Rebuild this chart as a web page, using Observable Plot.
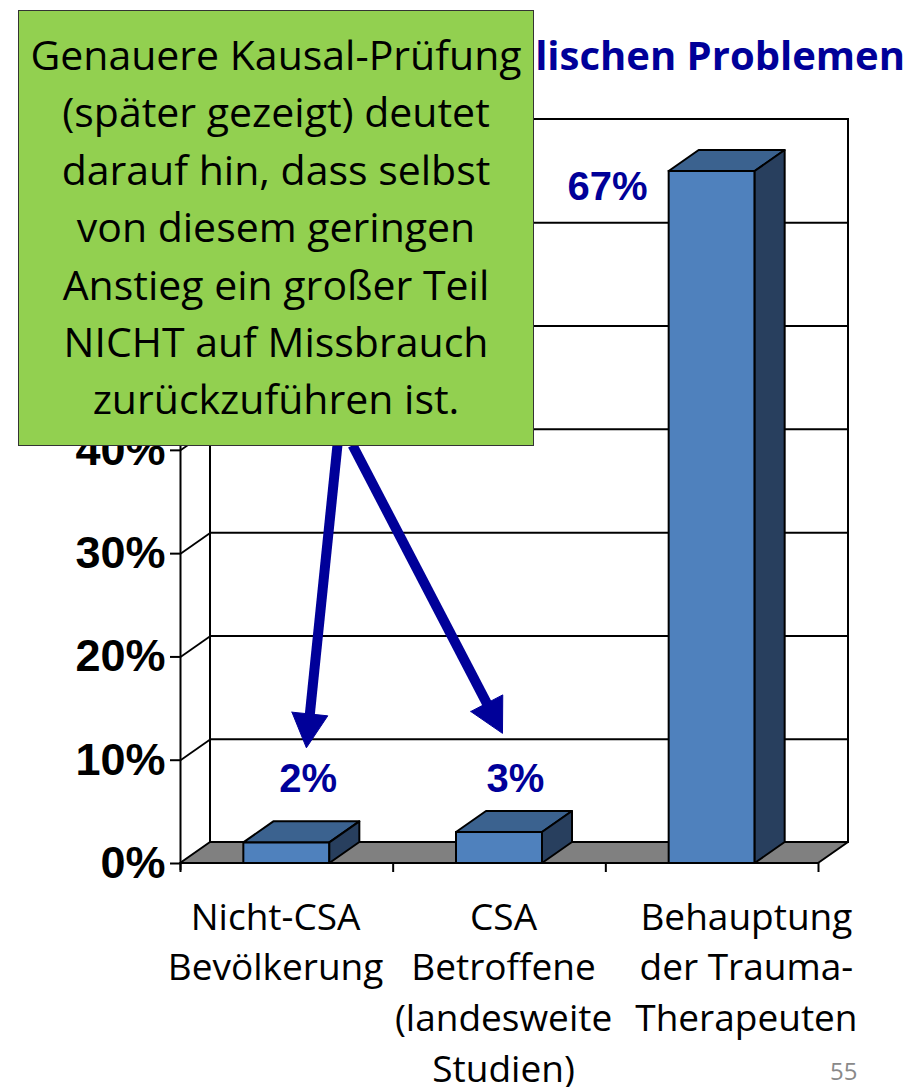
<!DOCTYPE html>
<html>
<head>
<meta charset="utf-8">
<script src="https://cdn.jsdelivr.net/npm/d3@7"></script>
<script src="https://cdn.jsdelivr.net/npm/@observablehq/plot@0.6"></script>
<style>
  body { margin: 0; background: #fff; }
  #wrap { position: relative; width: 918px; height: 1087px; overflow: hidden; background: #fff; }
  #chart { position: absolute; left: 0; top: 0; }
  #title { position: absolute; right: 13px; top: 26px; font: bold 40px "Open Sans", sans-serif; color: #000099; white-space: nowrap; line-height: 58px; }
  #box { position: absolute; left: 18px; top: 10px; width: 516px; height: 436px; box-sizing: border-box;
         background: #92d050; border: 1.5px solid #333; padding-top: 15px;
         font: 41px "Open Sans", sans-serif; line-height: 57.4px; color: #000; text-align: center; white-space: nowrap; }
  #page { position: absolute; left: 830px; top: 1054px; font: 24px "Open Sans", sans-serif; color: #898989; }
</style>
</head>
<body>
<div id="wrap">
  <div id="chart"></div>
  <div id="title"></div>
  <div id="box"></div>
  <div id="page"></div>
</div>
<script>
// ---- data ----
const categories = ["Nicht-CSA\nBevölkerung", "CSA\nBetroffene\n(landesweite\nStudien)", "Behauptung\nder Trauma-\nTherapeuten"];
const values = [2, 3, 67];
const valueLabels = ["2%", "3%", "67%"];
const yTicks = [0, 10, 20, 30, 40, 50, 60, 70];
const titleText = "Häufigkeit von seelischen Problemen";
const noteLines = [
  "Genauere Kausal-Prüfung",
  "(später gezeigt) deutet",
  "darauf hin, dass selbst",
  "von diesem geringen",
  "Anstieg ein großer Teil",
  "NICHT auf Missbrauch",
  "zurückzuführen ist."
];
const pageNumber = "55";

// ---- annotation placement (chart units) ----
const labelPlacement = [ {x: 0.60, y: 8.2}, {x: 1.575, y: 8.2}, {x: 2.008, y: 65.5} ];
const categoryPlacement = [0.447, 1.519, 2.661];
const arrowPlacement = [
  {x1: 0.738, y1: 40.5, x2: 0.592, y2: 11.2},
  {x1: 0.809, y1: 40.5, x2: 1.514, y2: 12.6}
];

// ---- layout ----
const W = 918, H = 1087, mL = 180, mR = 100, mT = 140, mB = 224;
const kx = (W - mL - mR) / 3, ky = (H - mT - mB) / 70; // px per unit
const depth = {dx: 30 / kx, dy: 21 / ky};
const halfBar = 43 / kx;
const yMax = 70;
const hiddenAbove = 40; // tick labels above this sit under the note box

document.getElementById("title").textContent = titleText;
document.getElementById("box").innerHTML = noteLines.map(s => `<div>${s}</div>`).join("");
document.getElementById("page").textContent = pageNumber;

const bars = values.map((v, i) => ({i, v, c: i + 0.5, label: valueLabels[i], lx: labelPlacement[i].x, ly: labelPlacement[i].y}));
const cats = categories.map((name, i) => ({name, x: categoryPlacement[i]}));

// top faces and side faces as areas
const topFaces = bars.flatMap(b => {
  const a = b.c - halfBar, z = b.c + halfBar, v = b.v, dx = depth.dx, dy = depth.dy;
  return [
    {bar: b.i, x: a, lo: v, hi: v},
    {bar: b.i, x: a + dx, lo: v, hi: v + dy},
    {bar: b.i, x: z, lo: v, hi: v + dy},
    {bar: b.i, x: z + dx, lo: v + dy, hi: v + dy}
  ];
});
const sideFaces = bars.flatMap(b => {
  const z = b.c + halfBar, v = b.v, dx = depth.dx, dy = depth.dy;
  return [
    {bar: b.i, x: z, lo: 0, hi: v},
    {bar: b.i, x: z + dx, lo: dy, hi: v + dy}
  ];
});
const floor = [
  {x: 0, lo: 0, hi: 0},
  {x: depth.dx, lo: 0, hi: depth.dy},
  {x: 3, lo: 0, hi: depth.dy},
  {x: 3 + depth.dx, lo: depth.dy, hi: depth.dy}
];

// arrows: shaft + filled triangular head
const headL = 34, headW = 36;
const shafts = [], heads = [];
arrowPlacement.forEach((a, k) => {
  const px = (a.x2 - a.x1) * kx, py = -(a.y2 - a.y1) * ky;
  const len = Math.hypot(px, py), ux = px / len, uy = py / len, nx = -uy, ny = ux;
  const toData = (ox, oy) => ({x: ox / kx, y: -oy / ky});
  const b = toData(-headL * ux, -headL * uy);
  const bx = a.x2 + b.x, by = a.y2 + b.y;
  const s = toData(3 * ux, 3 * uy);
  shafts.push({x1: a.x1, y1: a.y1, x2: bx + s.x, y2: by + s.y});
  const n = toData(headW / 2 * nx, headW / 2 * ny);
  heads.push({k, x: bx + n.x, y: by + n.y});
  heads.push({k, x: a.x2, y: a.y2});
  heads.push({k, x: bx - n.x, y: by - n.y});
  heads.push({k, x: bx + n.x, y: by + n.y});
});

const ink = "#000";
const plot = Plot.plot({
  width: W, height: H,
  marginLeft: mL, marginRight: mR, marginTop: mT, marginBottom: mB,
  x: {domain: [0, 3]},
  y: {domain: [0, yMax]},
  style: {background: "transparent", overflow: "visible"},
  marks: [
    // back wall
    Plot.rect([{}], {x1: depth.dx, x2: 3 + depth.dx, y1: depth.dy, y2: yMax + depth.dy, fill: "white", stroke: ink, strokeWidth: 2}),
    Plot.ruleY(yTicks.filter(t => t > 0 && t < yMax), {y: d => d + depth.dy, x1: depth.dx, x2: 3 + depth.dx, stroke: ink, strokeWidth: 2}),
    // left wall diagonals
    Plot.link(yTicks, {x1: 0, y1: d => d, x2: depth.dx, y2: d => d + depth.dy, stroke: ink, strokeWidth: 1.8}),
    // floor
    Plot.area(floor, {x1: "x", y1: "lo", y2: "hi", fill: "#808080", stroke: ink, strokeWidth: 2, curve: "linear"}),
    // y axis line
    Plot.ruleX([0], {y1: -0.7, y2: yMax, stroke: ink, strokeWidth: 2}),
    // bars
    Plot.rect(bars, {x1: d => d.c - halfBar, x2: d => d.c + halfBar, y1: 0, y2: "v", fill: "#4f81bd", stroke: ink, strokeWidth: 2}),
    Plot.area(topFaces, {x1: "x", y1: "lo", y2: "hi", z: "bar", fill: "#3b628f", stroke: ink, strokeWidth: 2, curve: "linear"}),
    Plot.area(sideFaces, {x1: "x", y1: "lo", y2: "hi", z: "bar", fill: "#283f5e", stroke: ink, strokeWidth: 2, curve: "linear"}),
    // axes
    Plot.axisY({ticks: yTicks, tickSize: 10, tickPadding: 5, tickFormat: d => d <= hiddenAbove ? d + "%" : "",
                fontSize: 45, fontWeight: "bold", fontFamily: "Liberation Sans", fill: ink, stroke: ink, strokeWidth: 2, label: null}),
    Plot.axisX({ticks: [0, 1, 2, 3], tickSize: 9, tickFormat: () => "", stroke: ink, strokeWidth: 2, label: null}),
    Plot.text(cats, {x: "x", y: 0, text: "name", dy: 30, lineAnchor: "top", textAnchor: "middle",
                     fontSize: 37, fontFamily: "Open Sans", lineHeight: 1.37, fill: ink}),
    // value labels
    Plot.text(bars, {x: "lx", y: "ly", text: "label", fontSize: 40, fontWeight: "bold", fontFamily: "Liberation Sans", fill: "#000099"}),
    // arrows
    Plot.link(shafts, {x1: "x1", y1: "y1", x2: "x2", y2: "y2", stroke: "#000099", strokeWidth: 10}),
    Plot.line(heads, {x: "x", y: "y", z: "k", fill: "#000099", stroke: "#000099", strokeWidth: 1, curve: "linear"})
  ]
});
document.getElementById("chart").appendChild(plot);
</script>
</body>
</html>
